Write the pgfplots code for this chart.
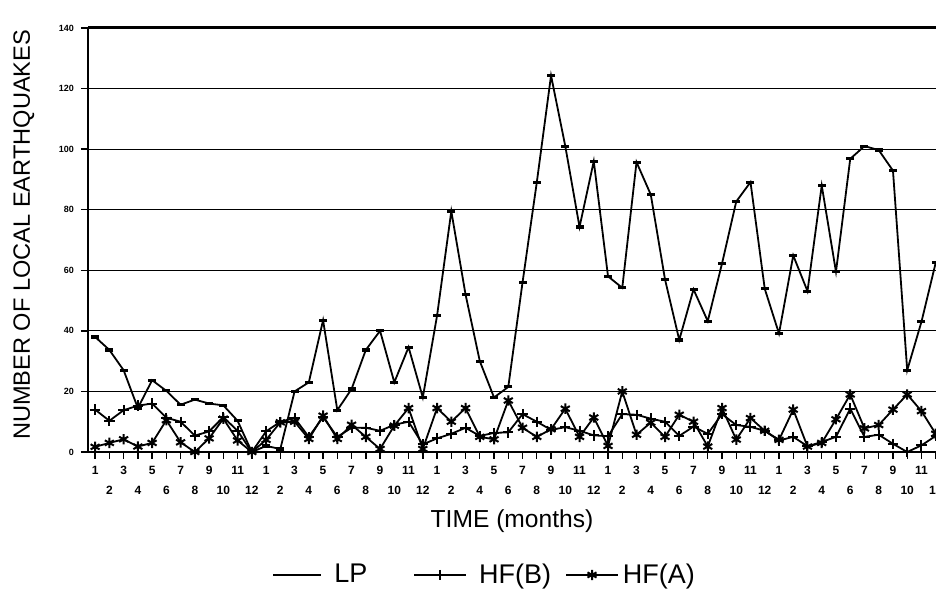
\documentclass[border=0pt]{standalone}
\usepackage{pgfplots}
\pgfplotsset{compat=1.18}
\usepackage{pgfplotstable}
\usepackage{fontspec}
\setmainfont{Liberation Sans}

% monthly counts, 60 months (5 years)
\pgfplotstableread{
m  lp    hfb   hfa
1  38    14    1.7
2  33.7  10.3  3
3  27    13.8  4.2
4  14.5  15.3  1.8
5  23.7  16    3
6  20.2  11.3  10.5
7  15.6  10    3.2
8  17.3  5.4   0
9  16    6.8   4.5
10 15.4  11.5  11
11 10.3  7     3.8
12 0     0     0
13 2     6.8   4
14 1     10    9.8
15 20    11.2  10
16 23    5     4.3
17 43.5  11.5  12
18 13.8  5     4.3
19 20.8  8     9
20 33.7  8     5
21 40    7     1
22 23    9     8.7
23 34.6  10    14.5
24 18    2.5   1
25 45    4.5   14.5
26 79.5  6     10
27 52    8     14.5
28 30    5.3   5
29 18    6.3   4.2
30 21.5  6.5   17
31 56    12.5  8
32 89    10    5
33 124.3 7.3   7.5
34 101   8.2   14.3
35 74.3  7     5
36 96    5.5   11.4
37 58    5.2   2
38 54.2  12.5  20
39 95.7  12.3  5.7
40 85    11    9.7
41 57    10    5
42 37    5.3   12.3
43 53.7  8.4   10
44 43.2  6     1.8
45 62.2  12.5  14.5
46 82.7  8.9   4.1
47 89.1  8.3   11.2
48 53.9  7     7
49 39.1  3.8   4
50 64.9  5     14
51 53.1  1.9   1.8
52 88    3.3   3
53 59.5  5     10.8
54 96.8  14.3  19
55 101   5     7.8
56 99.7  5.7   8.9
57 92.9  2.7   14
58 27    0     19
59 43    2.2   13.5
60 62.5  5.3   6
}\quakes

\begin{document}
\begin{tikzpicture}
\begin{axis}[
  scale only axis,
  width=424pt, height=212pt,
  xmin=0.5, xmax=60.02,
  ymin=0, ymax=140,
  axis x line=bottom, axis y line=left,
  axis line style={-},
  x axis line style={line width=1.4pt},
  y axis line style={line width=0.8pt},
  tick align=outside,
  major tick length=3.5pt,
  tick style={black, line width=0.7pt},
  xtick={1,3,...,59},
  xticklabels={1,3,5,7,9,11,1,3,5,7,9,11,1,3,5,7,9,11,1,3,5,7,9,11,1,3,5,7,9,11},
  extra x ticks={2,4,...,60},
  extra x tick labels={2,4,6,8,10,12,2,4,6,8,10,12,2,4,6,8,10,12,2,4,6,8,10,12,2,4,6,8,10,12},
  extra x tick style={tick label style={yshift=-10pt}},
  x tick label style={font=\fontsize{6}{7}\selectfont\bfseries},
  ytick={0,20,...,120},
  extra y ticks={140},
  extra y tick style={grid style={line width=1.5pt}},
  y tick label style={font=\fontsize{4.5}{5}\selectfont\bfseries},
  /pgf/number format/assume math mode=true,
  ymajorgrids,
  grid style={black, line width=0.55pt},
  xlabel={TIME (months)},
  xlabel style={at={(axis description cs:0.5,-0.177)}, anchor=base, font=\fontsize{12.3}{14}\selectfont},
  ylabel={NUMBER OF LOCAL EARTHQUAKES},
  ylabel style={at={(axis description cs:-0.0684,0.512)}, anchor=base, font=\fontsize{11.8}{14}\selectfont},
  legend columns=3,
  legend style={draw=none, fill=none, at={(axis description cs:0.469,-0.29)}, anchor=center,
    font=\fontsize{13.5}{15}\selectfont,
    /tikz/column 1/.style={column sep=4pt},
    /tikz/column 2/.style={column sep=21pt},
    /tikz/column 3/.style={column sep=4pt},
    /tikz/column 4/.style={column sep=5pt},
    /tikz/column 5/.style={column sep=0pt}},
  legend image code/.code={\draw[mark repeat=2, mark phase=2, #1] plot coordinates {(0pt,0pt) (13pt,0pt) (26pt,0pt)};},
]
\addplot[black, line width=0.9pt, mark=-, mark size=2pt, mark options={solid, line width=1.6pt},
  legend image code/.code={\draw[black, line width=0.9pt] (0pt,0pt) -- (24pt,0pt);}]
  table[x=m, y=lp] {\quakes};
\addlegendentry{LP}
\addplot[black, line width=0.9pt, mark=+, mark size=2.6pt, mark options={solid, line width=1pt}]
  table[x=m, y=hfb] {\quakes};
\addlegendentry{HF(B)}
\addplot[black, line width=0.9pt, mark=asterisk, mark size=2.6pt, mark options={solid, line width=1pt}]
  table[x=m, y=hfa] {\quakes};
\addlegendentry{HF(A)}
\coordinate (bl) at (axis description cs:0,0);
\coordinate (tr) at (axis description cs:1,1);
\end{axis}
\pgfresetboundingbox
\path ([shift={(-44pt,-71.5pt)}]bl) rectangle ([shift={(0pt,14pt)}]tr);
\end{tikzpicture}
\end{document}
